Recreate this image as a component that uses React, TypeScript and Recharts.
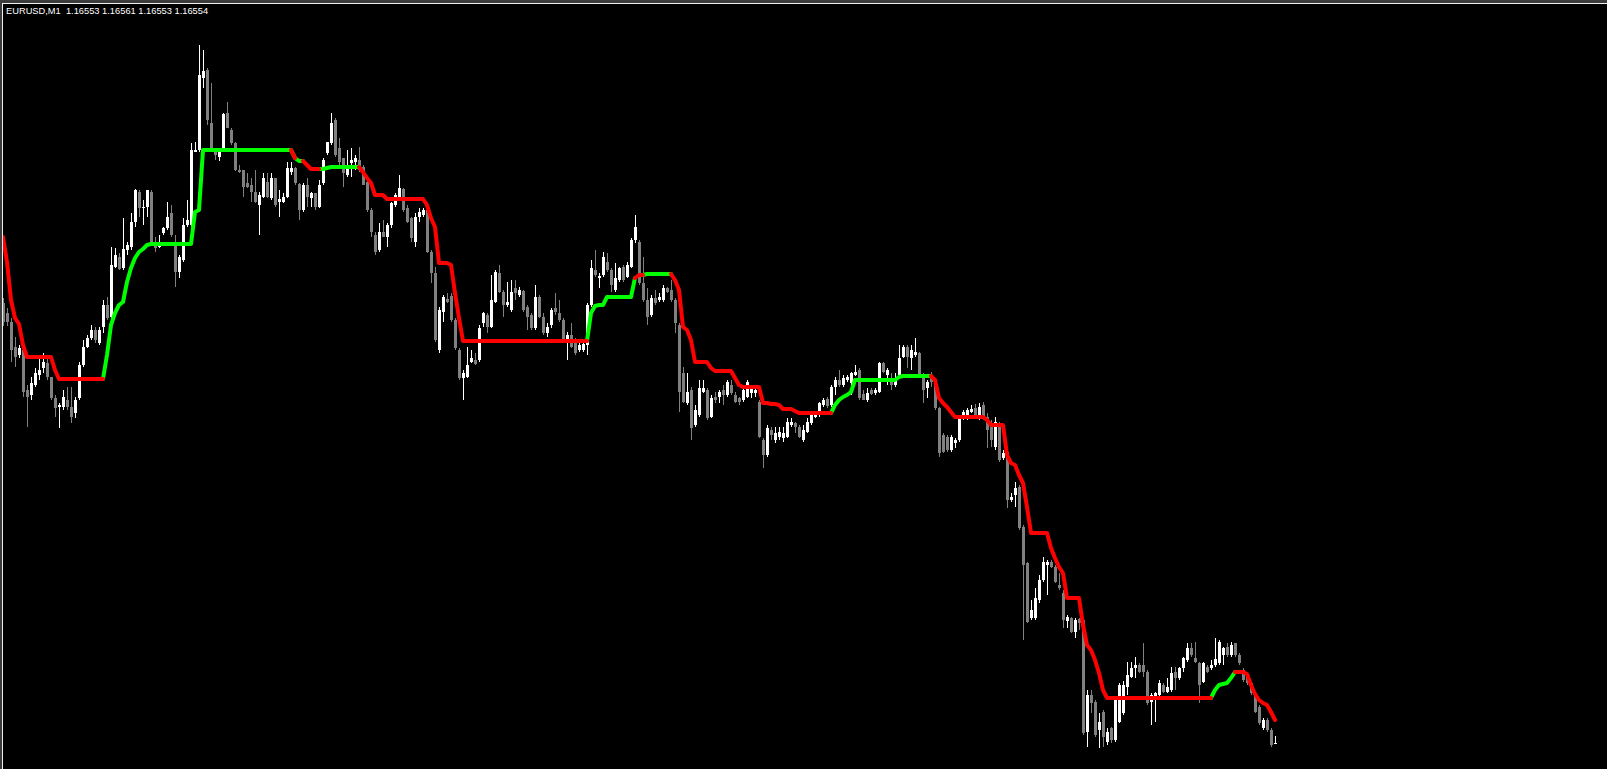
import { ComposedChart, Bar, Line, XAxis, YAxis } from "recharts";

// EURUSD M1, prices kept in points above 1.16000 (553 -> 1.16553)
const SYMBOL = "EURUSD,M1";
const BASE = 1.16;

const open = [
  994, 984, 975, 950, 942, 947, 907, 902, 912, 922,
  929, 934, 920, 899, 890, 890, 897, 890, 884, 899,
  932, 950, 959, 967, 954, 970, 992, 980, 1030, 1040,
  1029, 1047, 1050, 1075, 1105, 1089, 1090, 1105, 1055, 1050,
  1064, 1069, 1084, 1055, 1025, 1037, 1072, 1072, 1145, 1147,
  1219, 1227, 1174, 1147, 1140, 1147, 1184, 1167, 1154, 1127,
  1127, 1114, 1112, 1105, 1092, 1100, 1115, 1099, 1119, 1095,
  1095, 1100, 1125, 1129, 1113, 1087, 1112, 1099, 1104, 1090,
  1114, 1144, 1154, 1177, 1149, 1139, 1122, 1134, 1135, 1137,
  1130, 1115, 1087, 1062, 1047, 1065, 1060, 1072, 1092, 1100,
  1108, 1089, 1079, 1055, 1080, 1082, 1087, 1045, 1024, 947,
  985, 998, 1001, 977, 947, 919, 920, 935, 937, 937,
  974, 982, 970, 995, 1024, 1005, 992, 987, 1009, 1002,
  1006, 990, 982, 969, 1000, 980, 964, 972, 989, 984,
  977, 957, 962, 957, 947, 947, 952, 992, 1027, 1019,
  1022, 1035, 1027, 1007, 1017, 1030, 1020, 1030, 1057, 1055,
  1014, 997, 982, 999, 997, 997, 1009, 1007, 997, 972,
  924, 894, 907, 872, 882, 905, 907, 880, 900, 900,
  907, 902, 912, 902, 899, 897, 900, 904, 904, 895,
  857, 842, 867, 857, 860, 859, 860, 872, 874, 870,
  857, 865, 874, 880, 882, 892, 898, 892, 910, 917,
  912, 917, 914, 922, 927, 903, 897, 907, 904, 905,
  934, 922, 919, 912, 922, 940, 950, 939, 942, 944,
  922, 909, 922, 915, 889, 862, 860, 847, 854, 857,
  880, 882, 885, 889, 882, 892, 880, 872, 850, 874,
  839, 845, 797, 802, 810, 770, 734, 679, 679, 697,
  717, 732, 735, 730, 712, 704, 676, 679, 665, 678,
  677, 565, 602, 595, 567, 585, 555, 569, 557, 575,
  584, 610, 620, 629, 632, 632, 625, 595, 597, 602,
  612, 605, 607, 625, 619, 629, 637, 649, 639, 634,
  615, 630, 629, 632, 634, 642, 650, 642, 654, 642,
  627, 622, 614, 604, 590, 569, 577, 567, 553,
];

const high = [
  999, 989, 979, 960, 952, 947, 912, 920, 929, 940,
  944, 940, 920, 902, 894, 907, 910, 910, 900, 935,
  957, 962, 972, 970, 970, 997, 1000, 1050, 1049, 1044,
  1079, 1055, 1084, 1108, 1107, 1097, 1107, 1107, 1060, 1062,
  1070, 1095, 1092, 1062, 1042, 1079, 1097, 1154, 1155, 1252,
  1247, 1229, 1214, 1149, 1149, 1184, 1195, 1169, 1155, 1132,
  1127, 1124, 1119, 1127, 1105, 1124, 1124, 1124, 1119, 1107,
  1104, 1135, 1135, 1130, 1114, 1114, 1119, 1105, 1104, 1117,
  1139, 1155, 1184, 1179, 1159, 1139, 1147, 1149, 1142, 1150,
  1132, 1117, 1089, 1065, 1074, 1077, 1074, 1095, 1104, 1122,
  1109, 1092, 1080, 1084, 1089, 1089, 1089, 1047, 1030, 990,
  1002, 1004, 1004, 979, 949, 927, 950, 947, 944, 972,
  985, 984, 1022, 1027, 1032, 1007, 1015, 1017, 1017, 1010,
  1007, 992, 984, 1012, 1002, 984, 974, 989, 1004, 997,
  979, 965, 974, 959, 957, 957, 994, 1037, 1047, 1024,
  1045, 1044, 1029, 1034, 1030, 1032, 1035, 1059, 1082, 1057,
  1040, 1009, 1002, 1007, 1004, 1012, 1010, 1017, 999, 974,
  930, 924, 910, 892, 917, 917, 909, 902, 905, 907,
  912, 917, 917, 905, 900, 909, 917, 910, 910, 897,
  859, 872, 870, 870, 870, 870, 879, 879, 875, 872,
  872, 879, 884, 885, 895, 899, 900, 912, 920, 927,
  922, 922, 925, 932, 929, 907, 909, 909, 909, 935,
  935, 929, 924, 924, 952, 952, 952, 952, 959, 945,
  924, 917, 925, 917, 890, 864, 862, 862, 859, 882,
  887, 889, 892, 893, 894, 895, 884, 877, 880, 875,
  847, 847, 804, 815, 812, 772, 735, 697, 709, 722,
  740, 737, 737, 732, 724, 707, 682, 680, 679, 679,
  679, 607, 607, 597, 584, 587, 569, 570, 599, 614,
  616, 635, 635, 640, 634, 654, 627, 604, 605, 617,
  614, 619, 630, 630, 630, 640, 654, 654, 655, 635,
  635, 632, 637, 659, 657, 650, 654, 655, 654, 644,
  629, 624, 615, 605, 592, 579, 579, 569, 561,
];

const low = [
  971, 971, 935, 930, 939, 900, 870, 897, 910, 917,
  924, 917, 897, 880, 869, 887, 887, 874, 879, 897,
  930, 949, 957, 954, 952, 964, 977, 977, 1029, 1027,
  1027, 1042, 1047, 1070, 1080, 1072, 1080, 1052, 1045, 1049,
  1062, 1067, 1060, 1010, 1019, 1035, 1070, 1070, 1145, 1145,
  1209, 1172, 1145, 1137, 1136, 1145, 1169, 1152, 1126, 1124,
  1100, 1109, 1095, 1094, 1062, 1099, 1099, 1097, 1090, 1080,
  1094, 1099, 1122, 1112, 1077, 1085, 1090, 1090, 1087, 1089,
  1112, 1142, 1152, 1140, 1130, 1110, 1120, 1120, 1127, 1125,
  1112, 1085, 1060, 1042, 1045, 1060, 1050, 1069, 1090, 1099,
  1085, 1074, 1055, 1050, 1075, 1080, 1044, 1014, 955, 944,
  975, 994, 975, 947, 917, 897, 919, 934, 932, 935,
  970, 964, 969, 994, 1004, 980, 990, 985, 997, 1000,
  985, 967, 967, 967, 979, 962, 960, 969, 982, 975,
  955, 937, 949, 942, 945, 945, 942, 990, 1020, 1009,
  1020, 1025, 1005, 1005, 1015, 1015, 1019, 1029, 1054, 1012,
  995, 972, 980, 992, 995, 995, 1004, 995, 964, 885,
  894, 892, 857, 870, 880, 904, 877, 879, 894, 894,
  892, 900, 902, 894, 892, 895, 899, 899, 900, 859,
  829, 840, 857, 854, 857, 855, 859, 870, 864, 859,
  855, 864, 872, 879, 880, 890, 889, 890, 902, 910,
  910, 915, 902, 921, 897, 897, 895, 902, 902, 904,
  924, 912, 907, 910, 920, 939, 929, 927, 940, 920,
  894, 899, 910, 887, 840, 844, 845, 845, 849, 855,
  877, 877, 884, 878, 877, 877, 849, 850, 847, 835,
  837, 789, 795, 790, 767, 657, 674, 677, 677, 694,
  715, 702, 729, 714, 707, 669, 669, 664, 659, 667,
  562, 550, 584, 560, 549, 550, 552, 554, 555, 574,
  582, 602, 619, 619, 624, 620, 592, 572, 575, 599,
  604, 604, 605, 607, 617, 625, 635, 640, 634, 594,
  614, 624, 627, 630, 632, 632, 640, 640, 640, 632,
  615, 612, 602, 584, 572, 567, 565, 550, 553,
];

const close = [
  975, 975, 947, 940, 949, 905, 900, 914, 924, 927,
  935, 920, 899, 889, 892, 900, 890, 880, 897, 932,
  950, 959, 967, 957, 967, 992, 979, 1032, 1042, 1028,
  1048, 1052, 1075, 1107, 1089, 1090, 1107, 1054, 1049, 1054,
  1069, 1080, 1062, 1025, 1040, 1072, 1077, 1147, 1147, 1222,
  1226, 1177, 1147, 1142, 1147, 1183, 1169, 1154, 1127, 1125,
  1110, 1110, 1105, 1095, 1102, 1119, 1100, 1119, 1092, 1098,
  1100, 1129, 1129, 1114, 1087, 1112, 1100, 1104, 1090, 1112,
  1137, 1155, 1174, 1142, 1135, 1124, 1132, 1137, 1139, 1127,
  1112, 1087, 1065, 1045, 1065, 1060, 1072, 1094, 1102, 1109,
  1087, 1075, 1059, 1080, 1085, 1087, 1045, 1024, 957, 987,
  1000, 995, 977, 949, 919, 924, 932, 939, 933, 969,
  984, 970, 997, 1025, 1005, 992, 995, 1005, 1004, 1007,
  987, 980, 969, 1000, 980, 964, 970, 987, 985, 977,
  957, 962, 950, 944, 952, 953, 992, 1029, 1022, 1021,
  1040, 1027, 1012, 1019, 1029, 1017, 1032, 1057, 1070, 1014,
  997, 980, 999, 994, 1000, 1009, 1005, 997, 974, 905,
  895, 905, 869, 887, 909, 909, 879, 899, 897, 905,
  902, 915, 904, 895, 895, 907, 915, 909, 907, 860,
  842, 869, 862, 864, 865, 864, 875, 875, 870, 860,
  867, 875, 882, 882, 894, 897, 891, 910, 917, 912,
  919, 920, 924, 925, 899, 897, 904, 903, 907, 934,
  925, 927, 912, 917, 939, 950, 940, 947, 945, 922,
  907, 915, 915, 889, 844, 845, 847, 860, 857, 880,
  885, 887, 888, 880, 890, 880, 867, 857, 875, 837,
  844, 797, 800, 809, 769, 732, 675, 687, 699, 717,
  735, 735, 730, 715, 709, 677, 680, 665, 677, 674,
  564, 602, 594, 562, 575, 560, 565, 557, 597, 612,
  612, 622, 629, 632, 625, 625, 594, 602, 604, 614,
  605, 610, 624, 619, 629, 639, 649, 642, 635, 612,
  634, 625, 632, 638, 655, 649, 642, 652, 642, 634,
  617, 614, 604, 585, 574, 577, 567, 552, 554,
];

// trailing indicator, one value per bar
const indicator = [
  1060, 1035, 997, 979, 973, 952, 940, 940, 940, 940,
  940, 940, 940, 927, 918, 918, 918, 918, 918, 918,
  918, 918, 918, 918, 918, 918, 942, 972, 984, 992,
  995, 1015, 1029, 1039, 1045, 1048, 1052, 1053, 1053, 1053,
  1053, 1053, 1053, 1053, 1053, 1053, 1053, 1053, 1085, 1087,
  1147, 1147, 1147, 1147, 1147, 1147, 1147, 1147, 1147, 1147,
  1147, 1147, 1147, 1147, 1147, 1147, 1147, 1147, 1147, 1147,
  1147, 1147, 1147, 1139, 1136, 1136, 1132, 1128, 1128, 1128,
  1128, 1129, 1130, 1130, 1130, 1130, 1130, 1130, 1130, 1130,
  1125, 1119, 1114, 1102, 1102, 1102, 1098, 1098, 1098, 1098,
  1098, 1098, 1098, 1098, 1098, 1098, 1092, 1079, 1070, 1034,
  1034, 1034, 1032, 1004, 979, 956, 956, 956, 956, 956,
  956, 956, 956, 956, 956, 956, 956, 956, 956, 956,
  956, 956, 956, 956, 956, 956, 956, 956, 956, 956,
  956, 956, 956, 956, 956, 956, 956, 984, 991, 992,
  992, 1000, 1000, 1000, 1000, 1000, 1000, 1000, 1019, 1022,
  1022, 1023, 1023, 1023, 1023, 1023, 1023, 1023, 1017, 1007,
  970, 967, 957, 935, 935, 935, 935, 929, 926, 926,
  926, 926, 926, 919, 912, 910, 910, 910, 910, 910,
  894, 894, 893, 893, 892, 888, 888, 888, 886, 884,
  884, 884, 884, 884, 884, 884, 884, 884, 892, 897,
  900, 902, 905, 917, 917, 917, 917, 917, 917, 917,
  917, 917, 917, 917, 920, 921, 921, 921, 921, 921,
  921, 921, 921, 917, 899, 894, 890, 885, 880, 880,
  880, 880, 880, 880, 880, 880, 877, 872, 872, 872,
  872, 842, 834, 832, 822, 814, 790, 764, 764, 764,
  764, 764, 749, 739, 730, 724, 699, 699, 699, 699,
  672, 652, 647, 637, 624, 607, 599, 599, 599, 599,
  599, 599, 599, 599, 599, 599, 599, 599, 599, 599,
  599, 599, 599, 599, 599, 599, 599, 599, 599, 599,
  599, 599, 599, 607, 612, 613, 614, 619, 625, 625,
  625, 623, 612, 603, 597, 594, 592, 585, 577,
];

// bar index ranges where the indicator is in up (green) mode
const upRanges: [number, number][] = [
  [26, 72], [74, 75], [80, 89], [147, 158], [161, 167], [208, 232], [303, 308],
];

const SLOTS = 401; // bars that fit the window, the rest is chart shift
const N = close.length;

const isUp = (i: number) => upRanges.some(([a, b]) => i >= a && i <= b);

const data = Array.from({ length: SLOTS }, (_, i) => {
  if (i >= N) return { idx: i };
  const upNext = i + 1 < N && isUp(i + 1);
  const downNext = i + 1 < N && !isUp(i + 1);
  return {
    idx: i,
    o: open[i],
    h: high[i],
    l: low[i],
    c: close[i],
    hl: [low[i], high[i]],
    green: isUp(i) || upNext ? indicator[i] : null,
    red: !isUp(i) || downNext ? indicator[i] : null,
  };
});

const fmt = (v: number) => (BASE + v / 100000).toFixed(5);
const last = N - 1;
const header = `${SYMBOL}  ${fmt(open[last])} ${fmt(high[last])} ${fmt(low[last])} ${fmt(close[last])}`;

function Candle(props: any) {
  const { x, y, width, height, payload } = props;
  if (!payload || payload.h == null) return null;
  const top = Math.min(y, y + height);
  const span = Math.abs(height);
  const range = payload.h - payload.l;
  const yOf = (v: number) => (range > 0 ? top + ((payload.h - v) / range) * span : top);
  const bull = payload.c >= payload.o;
  const color = bull ? "#ffffff" : "#808080";
  const cx = Math.round(x + width / 2 - 0.5);
  const wTop = Math.round(top);
  const wBot = Math.round(top + span);
  const bTop = Math.round(yOf(Math.max(payload.o, payload.c)));
  const bBot = Math.round(yOf(Math.min(payload.o, payload.c)));
  return (
    <g>
      <rect x={cx} y={wTop} width={1} height={Math.max(1, wBot - wTop)} fill={color} />
      <rect x={cx - 1} y={bTop} width={3} height={Math.max(1, bBot - bTop)} fill={color} />
    </g>
  );
}

export default function App() {
  return (
    <div style={{ position: "fixed", left: 0, top: 0, width: 1607, height: 769, background: "#000", overflow: "hidden" }}>
      <div style={{ position: "absolute", left: 0, top: 0 }}>
        <ComposedChart width={1607} height={769} data={data} margin={{ top: 0, right: 2, left: 1, bottom: 0 }}>
          <XAxis dataKey="idx" type="category" hide />
          <YAxis type="number" domain={[528, 1297]} allowDataOverflow hide />
          <Bar dataKey="hl" barSize={3} shape={<Candle />} isAnimationActive={false} />
          <Line
            dataKey="green"
            type="linear"
            stroke="#00ff00"
            strokeWidth={4}
            strokeLinejoin="round"
            strokeLinecap="round"
            dot={false}
            activeDot={false}
            connectNulls={false}
            isAnimationActive={false}
          />
          <Line
            dataKey="red"
            type="linear"
            stroke="#ff0000"
            strokeWidth={4}
            strokeLinejoin="round"
            strokeLinecap="round"
            dot={false}
            activeDot={false}
            connectNulls={false}
            isAnimationActive={false}
          />
        </ComposedChart>
      </div>
      {/* window frame */}
      <div style={{ position: "absolute", left: 0, top: 0, width: 1607, height: 3, background: "#3c3c3c" }} />
      <div style={{ position: "absolute", left: 0, top: 0, width: 2, height: 769, background: "#3c3c3c" }} />
      <div style={{ position: "absolute", left: 2, top: 3, width: 1605, height: 1, background: "#f0f0f0" }} />
      <div style={{ position: "absolute", left: 2, top: 3, width: 1, height: 766, background: "#f0f0f0" }} />
      <div
        style={{
          position: "absolute",
          left: 6,
          top: 6,
          color: "#fff",
          fontFamily: "'Liberation Sans', Arial, sans-serif",
          fontSize: 9.3,
          lineHeight: "10px",
          whiteSpace: "pre",
        }}
      >
        {header}
      </div>
    </div>
  );
}
